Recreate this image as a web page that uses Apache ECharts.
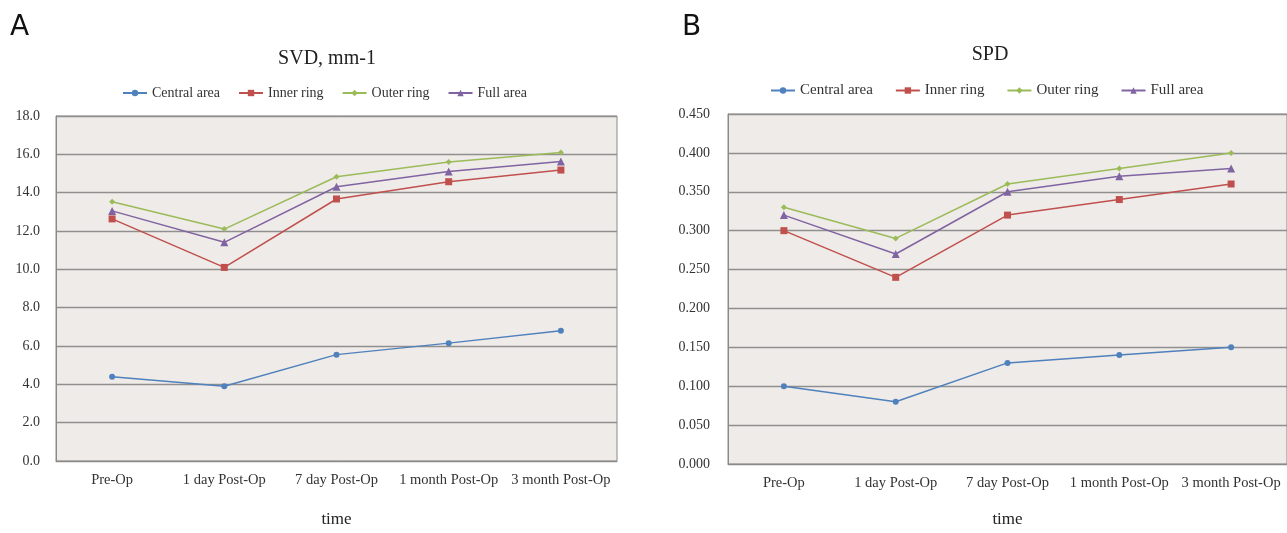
<!DOCTYPE html>
<html><head><meta charset="utf-8">
<script src="https://cdn.jsdelivr.net/npm/echarts@6/dist/echarts.min.js"></script>
<style>html,body{margin:0;padding:0;background:#fff}#c{width:1287px;height:533px}</style>
</head><body><div id="c"></div>
<script>
const categories = ['Pre-Op','1 day Post-Op','7 day Post-Op','1 month Post-Op','3 month Post-Op'];
const seriesNames = ['Central area','Inner ring','Outer ring','Full area'];
// Panel A: SVD, mm-1
const svdCentral = [4.4, 3.9, 5.55, 6.15, 6.8];
const svdInner   = [12.63, 10.1, 13.67, 14.57, 15.18];
const svdOuter   = [13.53, 12.1, 14.83, 15.6, 16.1];
const svdFull    = [13.05, 11.41, 14.31, 15.1, 15.62];
// Panel B: SPD
const spdCentral = [0.10, 0.08, 0.13, 0.14, 0.15];
const spdInner   = [0.30, 0.24, 0.32, 0.34, 0.36];
const spdOuter   = [0.33, 0.29, 0.36, 0.38, 0.40];
const spdFull    = [0.32, 0.27, 0.35, 0.37, 0.38];
const yTicksA = {min:0, max:18, interval:2};
const yTicksB = {min:0, max:0.45, interval:0.05};

const colors = ['#4F81BD','#C0504D','#9BBB59','#8064A2'];
const symbols = ['circle','rect','diamond','triangle'];
const serif = '"Liberation Serif","DejaVu Serif",serif';

const chart = echarts.init(document.getElementById('c'));
function mkSeries(data, gi){
  return data.map((d,i)=>({
    name: seriesNames[i], type:'line', xAxisIndex:gi, yAxisIndex:gi, data:d,
    symbol: symbols[i], symbolSize: i===1?7:(i===3?8:6),
    lineStyle:{color:colors[i], width:1.5}, itemStyle:{color:colors[i]},
    animation:false
  }));
}
const xAxisBase = (gi, gap) => ({
  type:'category', gridIndex:gi, data:categories, boundaryGap:true,
  axisTick:{show:false}, axisLine:{show:true, lineStyle:{color:'#8a8a8a'}},
  axisLabel:{interval:0, color:'#333', fontFamily:serif, fontSize:14.5, margin:12},
  name:'time', nameLocation:'middle', nameGap:gap,
  nameTextStyle:{color:'#222', fontFamily:serif, fontSize:17}
});
const yAxisBase = (gi, t, dec, m) => ({
  type:'value', gridIndex:gi, min:t.min, max:t.max, interval:t.interval,
  axisLine:{show:true, lineStyle:{color:'#8a8a8a'}}, axisTick:{show:false},
  splitLine:{show:true, lineStyle:{color:'#8f8f8f', width:1.3}},
  axisLabel:{color:'#333', fontFamily:serif, fontSize:14, margin:m, formatter:v=>v.toFixed(dec)}
});
chart.setOption({
  animation:false,
  textStyle:{fontFamily:serif},
  title:[
    {text:'SVD, mm-1', left:322, top:44, textAlign:'center', textStyle:{fontFamily:serif, fontSize:20, fontWeight:'normal', color:'#222'}},
    {text:'SPD', left:985, top:40, textAlign:'center', textStyle:{fontFamily:serif, fontSize:20, fontWeight:'normal', color:'#222'}}
  ],
  graphic:[
    {type:'text', left:10, top:14, style:{text:'A', font:'28px "DejaVu Sans", sans-serif', fill:'#111'}},
    {type:'text', left:682, top:14, style:{text:'B', font:'28px "DejaVu Sans", sans-serif', fill:'#111'}}
  ],
  legend:[
    {data:seriesNames, left:117, top:81, itemWidth:24, itemHeight:8, itemGap:18,
     textStyle:{fontFamily:serif, fontSize:14, color:'#333'}, selectedMode:false},
    {data:seriesNames, left:765, top:78, itemWidth:24, itemHeight:8, itemGap:22,
     textStyle:{fontFamily:serif, fontSize:15, color:'#333'}, selectedMode:false}
  ],
  grid:[
    {left:56, top:116, width:561, height:356, show:true, backgroundColor:'#EFEBE8', borderColor:'#8a8a8a', borderWidth:1},
    {left:728, top:114, width:560, height:358, show:true, backgroundColor:'#EFEBE8', borderColor:'#8a8a8a', borderWidth:1}
  ],
  xAxis:[xAxisBase(0, 50), xAxisBase(1, 47)],
  yAxis:[yAxisBase(0, yTicksA, 1, 16), yAxisBase(1, yTicksB, 3, 18)],
  series:[...mkSeries([svdCentral, svdInner, svdOuter, svdFull], 0),
          ...mkSeries([spdCentral, spdInner, spdOuter, spdFull], 1)]
});
</script></body></html>
